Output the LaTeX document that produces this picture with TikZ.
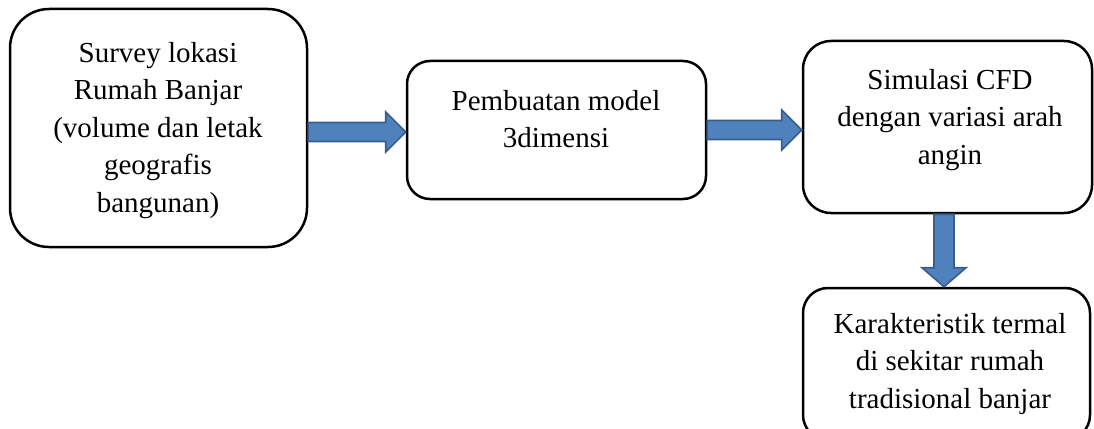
\documentclass[tikz,border=0pt]{standalone}
\usepackage{fontspec}
\setmainfont{Liberation Serif}
\usetikzlibrary{calc}
\definecolor{arrowfill}{RGB}{79,129,189}
\definecolor{arrowline}{RGB}{56,93,138}
\tikzset{
  box/.style={draw=black, line width=2.5pt, fill=white, inner sep=0pt},
  boxtext/.style={align=center, inner sep=0pt, anchor=base, font=\fontsize{29}{37.5}\selectfont},
  blockarrow/.style={fill=arrowfill, draw=arrowline, line width=1.6pt, line join=miter},
  harrow/.style={to path={
    ($(\tikztostart)+(0,-9.5)$) -- ($(\tikztotarget)+(-20,-9.5)$) -- ($(\tikztotarget)+(-20,-20)$)
    -- (\tikztotarget) -- ($(\tikztotarget)+(-20,20)$) -- ($(\tikztotarget)+(-20,9.5)$)
    -- ($(\tikztostart)+(0,9.5)$) -- cycle}},
  varrow/.style={to path={
    ($(\tikztostart)+(-10,0)$) -- ($(\tikztotarget)+(-10,-19)$) -- ($(\tikztotarget)+(-22,-19)$)
    -- (\tikztotarget) -- ($(\tikztotarget)+(22,-19)$) -- ($(\tikztotarget)+(10,-19)$)
    -- ($(\tikztostart)+(10,0)$) -- cycle}}
}
\begin{document}
\begin{tikzpicture}[x=1pt, y=-1pt]
\useasboundingbox (0,0) rectangle (1094,428);
% boxes
\node[box, rounded corners=39pt, minimum width=297pt, minimum height=238pt] (b1) at (158.5,128) {};
\node[box, rounded corners=23pt, minimum width=299pt, minimum height=138pt] (b2) at (556.5,130) {};
\node[box, rounded corners=28pt, minimum width=289pt, minimum height=172pt] (b3) at (947.5,127) {};
\node[box, rounded corners=25pt, minimum width=287pt, minimum height=152pt] (b4) at (946.5,364) {};
% texts (anchor base = baseline of the last line)
\node[boxtext] (t1) at (158,212) {Survey lokasi\\Rumah Banjar\\(volume dan letak\\geografis\\bangunan)};
\node[boxtext] (t2) at (556,147.5) {Pembuatan model\\3dimensi};
\node[boxtext] (t3) at (950,164) {Simulasi CFD\\dengan variasi arah\\angin};
\node[boxtext] (t4) at (950,408) {Karakteristik termal\\di sekitar rumah\\tradisional banjar};
% arrow end points
\coordinate (a1s) at (b1.east |- 0,132);
\coordinate (a1e) at (b2.west |- 0,132);
\coordinate (a2s) at (b2.east |- 0,130);
\coordinate (a2e) at (b3.west |- 0,130);
\coordinate (a3s) at (b3.south -| 944,0);
\coordinate (a3e) at (b4.north -| 944,0);
\draw[blockarrow] (a1s) to[harrow] (a1e);
\draw[blockarrow] (a2s) to[harrow] (a2e);
\draw[blockarrow] (a3s) to[varrow] (a3e);
\end{tikzpicture}
\end{document}
